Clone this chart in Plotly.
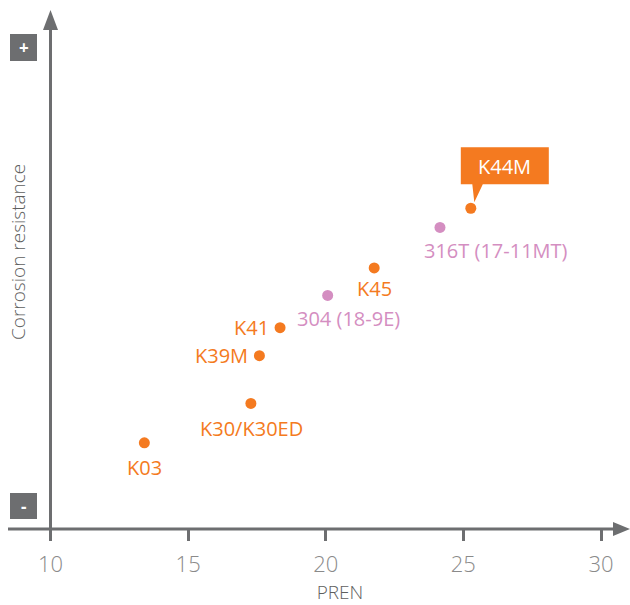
import plotly.graph_objects as go

# Steel grades: PREN vs. relative corrosion resistance (arbitrary 0-10 index)
ferritic_names = ["K03", "K30/K30ED", "K39M", "K41", "K45", "K44M"]
ferritic_pren = [13.41, 17.28, 17.59, 18.34, 21.76, 25.27]
ferritic_resist = [1.66, 2.42, 3.34, 3.88, 5.03, 6.18]

austenitic_names = ["304 (18-9E)", "316T (17-11MT)"]
austenitic_pren = [20.07, 24.15]
austenitic_resist = [4.50, 5.81]

x_ticks = [10, 15, 20, 25, 30]

ORANGE = "#F47A20"
PINK = "#D48EC1"
AXIS_GREY = "#6D6E70"
TITLE_GREY = "#5E5E5E"
FONT = "Open Sans"

fig = go.Figure()
fig.add_trace(go.Scatter(
    x=ferritic_pren, y=ferritic_resist, mode="markers",
    marker=dict(size=11, color=ORANGE), hoverinfo="skip", showlegend=False,
))
fig.add_trace(go.Scatter(
    x=austenitic_pren, y=austenitic_resist, mode="markers",
    marker=dict(size=11, color=PINK), hoverinfo="skip", showlegend=False,
))

# label placement per grade: (xanchor, xshift, yshift)
label_pos = {
    "K03": ("center", 0, -25),
    "K30/K30ED": ("center", 1, -25),
    "K39M": ("right", -9, 0),
    "K41": ("right", -9, 0),
    "K45": ("center", 0, -21),
    "304 (18-9E)": ("center", 21, -23),
    "316T (17-11MT)": ("center", 56, -23),
}

annotations = []
for names, xs, ys, col in [
    (ferritic_names, ferritic_pren, ferritic_resist, ORANGE),
    (austenitic_names, austenitic_pren, austenitic_resist, PINK),
]:
    for n, x, y in zip(names, xs, ys):
        if n not in label_pos:
            continue
        xa, dx, dy = label_pos[n]
        annotations.append(dict(
            x=x, y=y, xref="x", yref="y", text=n, showarrow=False,
            xanchor=xa, yanchor="middle", xshift=dx, yshift=dy,
            font=dict(family=FONT, size=20, color=col),
        ))

# K44M callout text (box drawn as a shape below)
k44 = ferritic_names.index("K44M")
annotations.append(dict(
    x=ferritic_pren[k44], y=ferritic_resist[k44], xref="x", yref="y",
    text="K44M", showarrow=False, xanchor="center", yanchor="middle",
    xshift=34, yshift=42, font=dict(family=FONT, size=20, color="white"),
))

# y-axis title
annotations.append(dict(
    x=0, y=1, xref="paper", yref="paper", text="Corrosion resistance",
    showarrow=False, textangle=-90, xanchor="center", yanchor="middle",
    xshift=-32, yshift=-242,
    font=dict(family=FONT, size=19, color=TITLE_GREY, weight=300),
))

# + / - markers on the y axis
annotations.append(dict(
    x=0, y=1, xref="paper", yref="paper", text="<b>+</b>", showarrow=False,
    xanchor="center", yanchor="middle", xshift=-26.5, yshift=-37.5,
    font=dict(family=FONT, size=17, color="white"),
))
annotations.append(dict(
    x=0, y=0, xref="paper", yref="paper", text="<b>-</b>", showarrow=False,
    xanchor="center", yanchor="middle", xshift=-26.5, yshift=23,
    font=dict(family=FONT, size=17, color="white"),
))


def px_shape(path, xa, ya, **kw):
    return dict(type="path", xref="paper", yref="paper",
                xsizemode="pixel", ysizemode="pixel",
                xanchor=xa, yanchor=ya, path=path, layer="above", **kw)


shapes = [
    # vertical axis line and arrow
    px_shape("M 0.5,0 L 0.5,500", 0, 0, line=dict(color=AXIS_GREY, width=3)),
    px_shape("M -7,499 L 8,499 L 0.5,519 Z", 0, 0,
             fillcolor=AXIS_GREY, line=dict(width=0)),
    # horizontal axis line and arrow
    px_shape("M -42,0 L 564,0", 0, 0, line=dict(color=AXIS_GREY, width=3)),
    px_shape("M 563,7 L 563,-7 L 580,0 Z", 0, 0,
             fillcolor=AXIS_GREY, line=dict(width=0)),
    # + and - boxes
    px_shape("M -40,-24 L -13,-24 L -13,-51 L -40,-51 Z", 0, 1,
             fillcolor=AXIS_GREY, line=dict(width=0)),
    px_shape("M -40,10 L -13,10 L -13,36 L -40,36 Z", 0, 0,
             fillcolor=AXIS_GREY, line=dict(width=0)),
]

# K44M callout box with pointer, anchored on the data point
shapes.append(dict(
    type="path", xref="x", yref="y", xsizemode="pixel", ysizemode="pixel",
    xanchor=ferritic_pren[k44], yanchor=ferritic_resist[k44],
    path="M -10,61 L 78,61 L 78,24 L 12,24 L 3.5,6 L 1.5,24 L -10,24 Z",
    fillcolor=ORANGE, line=dict(width=0), layer="below",
))

fig.update_layout(
    width=630, height=605,
    margin=dict(l=50, r=0, t=10, b=76, autoexpand=False),
    paper_bgcolor="white", plot_bgcolor="white",
    xaxis=dict(
        range=[9.98183, 31.0536], tickvals=x_ticks,
        ticktext=[str(t) for t in x_ticks],
        ticks="outside", ticklen=11, tickwidth=3, tickcolor=AXIS_GREY,
        ticklabelstandoff=5, automargin=False,
        showline=False, showgrid=False, zeroline=False,
        tickfont=dict(family=FONT, size=22, color="#8A8A8A", weight=300),
        title=dict(text="PREN", standoff=15,
                   font=dict(family=FONT, size=19, color=TITLE_GREY, weight=300)),
        fixedrange=True,
    ),
    yaxis=dict(
        range=[0, 10], showticklabels=False, ticks="", showline=False,
        showgrid=False, zeroline=False, fixedrange=True, automargin=False,
    ),
    shapes=shapes,
    annotations=annotations,
)

fig.write_html("out.html")
